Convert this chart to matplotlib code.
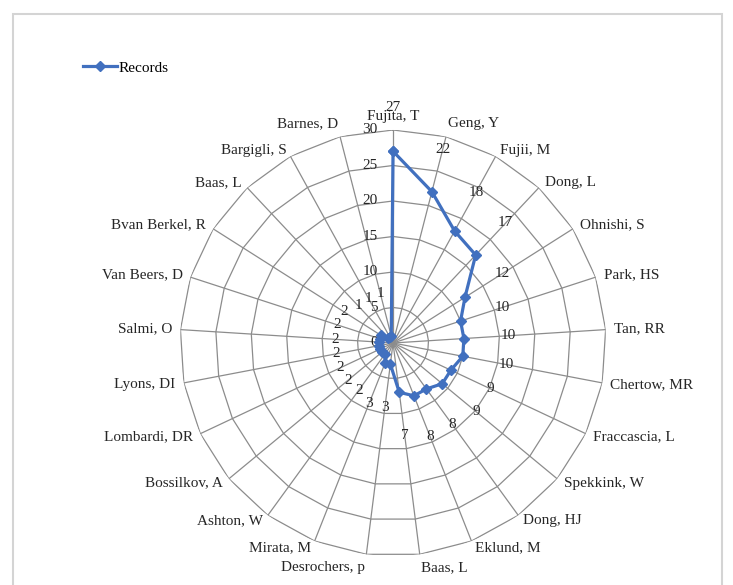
import numpy as np
import matplotlib.pyplot as plt
from matplotlib.lines import Line2D

plt.rcParams['font.family'] = ['Liberation Serif', 'DejaVu Serif']

# Данные (по часовой стрелке, начиная сверху)
authors = ['Fujita, T', 'Geng, Y', 'Fujii, M', 'Dong, L', 'Ohnishi, S', 'Park, HS',
           'Tan, RR', 'Chertow, MR', 'Fraccascia, L', 'Spekkink, W', 'Dong, HJ',
           'Eklund, M', 'Baas, L', 'Desrochers, p', 'Mirata, M', 'Ashton, W',
           'Bossilkov, A', 'Lombardi, DR', 'Lyons, DI', 'Salmi, O', 'Van Beers, D',
           'Bvan Berkel, R', 'Baas, L', 'Bargigli, S', 'Barnes, D']
records = [27, 22, 18, 17, 12, 10, 10, 10, 9, 9, 8, 8, 7, 3, 3, 2, 2, 2, 2, 2, 2, 2, 1, 1, 1]
rings = [0, 5, 10, 15, 20, 25, 30]

n = len(authors)
theta = np.arange(n) * 2 * np.pi / n
rmax = rings[-1]

fig = plt.figure(figsize=(7.33, 5.85), dpi=100)
ax = fig.add_axes([0.2456, 0.0496, 0.5812, 0.7282], projection='polar')
ax.set_theta_zero_location('N')
ax.set_theta_direction(-1)
ax.set_ylim(0, rmax)
ax.grid(False)
ax.spines['polar'].set_visible(False)
ax.set_xticks([])
ax.set_yticks([])
ax.patch.set_alpha(0)

grid_kw = dict(color='#8c8c8c', lw=0.9, zorder=1)
th_closed = np.append(theta, theta[0])
for r in rings[1:]:
    ax.plot(th_closed, [r] * (n + 1), **grid_kw)
for t in theta:
    ax.plot([t, t], [0, rmax], **grid_kw)

# Подписи оси
for r in rings:
    ax.annotate(str(r), xy=(0, r), xytext=(-11, 0), textcoords='offset points',
                ha='right', va='center', fontsize=11, color='#262626', zorder=2)

# Подписи категорий
for t, name in zip(theta, authors):
    s, c = np.sin(t), np.cos(t)
    ha = 'left' if s > 0.1 else ('right' if s < -0.1 else 'center')
    va = 'bottom' if c > 0.95 else ('top' if c < -0.95 else 'center')
    ax.annotate(name, xy=(t, rmax), xytext=(6 * s, 5 * c), textcoords='offset points',
                ha=ha, va=va, fontsize=11, color='#262626', annotation_clip=False)

# Ряд данных
col = '#4170bf'
ax.plot(np.append(theta, theta[0]), records + [records[0]], color=col, lw=2.3,
        marker='D', ms=5, zorder=3)

for t, v in zip(theta, records):
    ax.text(t, v + 6.2, str(v), ha='center', va='center', fontsize=11,
            color='#262626', zorder=4)

handle = Line2D([], [], color=col, lw=2.3, marker='D', ms=5)
fig.legend([handle], ['Records'], loc='center left', frameon=False,
           bbox_to_anchor=(83 / 733, 1 - 68 / 585), borderpad=0, borderaxespad=0,
           handlelength=2.2, handletextpad=0.1, fontsize=11)

# Рамка
fig.add_artist(plt.Rectangle((13 / 733, -0.02), (722 - 13) / 733, 0.976 + 0.02,
                             transform=fig.transFigure, fill=False,
                             edgecolor='#d4d4d4', lw=1.5))

fig.savefig('out.png', dpi=100)
